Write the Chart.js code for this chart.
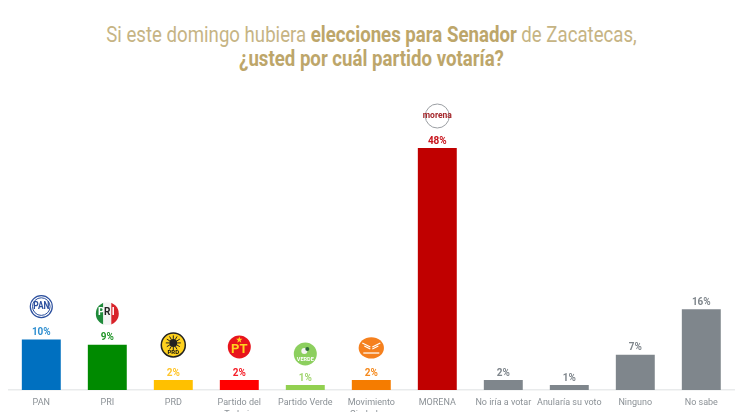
<!DOCTYPE html>
<html lang="es">
<head>
<meta charset="utf-8">
<script src="https://cdn.jsdelivr.net/npm/chart.js@4"></script>
<style>
html,body{margin:0;padding:0;background:#fff;width:748px;height:412px;overflow:hidden}
#wrap{position:relative;width:748px;height:412px}
canvas{position:absolute;left:0;top:0}
#title{position:absolute;left:0;right:0;top:22.5px;text-align:center;font:22px/24px Roboto,sans-serif;color:#c6b484;white-space:nowrap;transform:translateX(-2.5px) scaleX(.847);transform-origin:center;font-weight:400}
#title b{font-weight:700;color:#bda66a}
</style>
</head>
<body>
<div id="wrap">
<div id="title">Si este domingo hubiera <b>elecciones para Senador</b> de Zacatecas,<br><b>¿usted por cuál partido votaría?</b></div>
<canvas id="c" width="748" height="412"></canvas>
</div>
<script>
const categories = ['PAN','PRI','PRD',['Partido del','Trabajo'],'Partido Verde',['Movimiento','Ciudadano'],'MORENA','No iría a votar','Anularía su voto','Ninguno','No sabe'];
const values = [10,9,2,2,1,2,48,2,1,7,16];
const barColors = ['#0070c0','#008a00','#ffc000','#ff0000','#92d050','#f57c00','#c00000','#7f868c','#7f868c','#7f868c','#7f868c'];
const labelColors = ['#2f8fd0','#22962a','#ffc62e','#f5202a','#a2d670','#f58a1e','#c8141c','#7f868c','#7f868c','#7f868c','#7f868c'];
const logos = ['pan','pri','prd','pt','verde','mc','morena',null,null,null,null];
const logoLift = [33,31,35,33,31,32,32];

function circle(ctx,x,y,r,fill,stroke,lw){
  ctx.beginPath();ctx.arc(x,y,r,0,Math.PI*2);
  if(fill){ctx.fillStyle=fill;ctx.fill();}
  if(stroke){ctx.strokeStyle=stroke;ctx.lineWidth=lw||1;ctx.stroke();}
}
function label(ctx,t,x,y,font,color,sx){
  ctx.save();ctx.translate(x,y);ctx.scale(sx||1,1);
  ctx.font=font;ctx.fillStyle=color;ctx.textAlign='center';ctx.textBaseline='middle';
  ctx.fillText(t,0,0);ctx.restore();
}
const drawLogo = {
  pan(ctx,x,y){
    circle(ctx,x,y,11,'#fff','#2b4f9e',1.2);
    circle(ctx,x,y,8.8,null,'#2b4f9e',1);
    label(ctx,'PAN',x,y,'bold 10.5px Roboto','#2b4f9e',.8);
  },
  pri(ctx,x,y){
    ctx.save();ctx.beginPath();ctx.arc(x,y,11.5,0,Math.PI*2);ctx.clip();
    ctx.fillStyle='#1f8a3a';ctx.fillRect(x-12,y-12,8,24);
    ctx.fillStyle='#f4f4f4';ctx.fillRect(x-4,y-12,8,24);
    ctx.fillStyle='#d8232a';ctx.fillRect(x+4,y-12,8,24);
    ctx.restore();
    label(ctx,'P',x-6,y-1,'bold 10px Roboto','#fff',1);
    label(ctx,'R',x,y-1,'bold 10px Roboto','#222',1);
    label(ctx,'I',x+6,y-1,'bold 10px Roboto','#fff',1);
  },
  prd(ctx,x,y){
    circle(ctx,x,y,12,'#ffd21f','#222',1.5);
    circle(ctx,x,y-2,4,'#222');
    for(let i=0;i<12;i++){
      const a=i*Math.PI/6;
      ctx.strokeStyle='#222';ctx.lineWidth=1;ctx.beginPath();
      ctx.moveTo(x+Math.cos(a)*4,y-2+Math.sin(a)*4);
      ctx.lineTo(x+Math.cos(a)*7.5,y-2+Math.sin(a)*7.5);ctx.stroke();
    }
    label(ctx,'PRD',x,y+7.5,'bold 6px Roboto','#111',1);
  },
  pt(ctx,x,y){
    circle(ctx,x,y,11.5,'#e8141c');
    ctx.fillStyle='#ffd21f';ctx.beginPath();
    for(let i=0;i<10;i++){
      const r=i%2?1.4:3.4,a=-Math.PI/2+i*Math.PI/5,px=x+Math.cos(a)*r,py=y-7+Math.sin(a)*r;
      i?ctx.lineTo(px,py):ctx.moveTo(px,py);
    }
    ctx.closePath();ctx.fill();
    label(ctx,'PT',x,y+3,'bold 13px Roboto','#ffd21f',1);
  },
  verde(ctx,x,y){
    circle(ctx,x,y,11.5,'#8ccf5e');
    circle(ctx,x-1,y-3,3,'#f4f4f4');
    circle(ctx,x+2,y-5,2,'#2f6a3a');
    label(ctx,'VERDE',x,y+5.5,'bold 5.5px Roboto','#fff',1);
  },
  mc(ctx,x,y){
    ctx.save();ctx.translate(x,y);ctx.scale(1.1,.93);
    circle(ctx,0,0,11.5,'#f5801e');ctx.restore();
    ctx.strokeStyle='#fff';ctx.lineWidth=1.2;
    [-1,1].forEach(s=>{
      ctx.beginPath();ctx.moveTo(x+s*1,y-1);ctx.lineTo(x+s*9,y-5);ctx.stroke();
      ctx.beginPath();ctx.moveTo(x+s*1,y+1);ctx.lineTo(x+s*7,y-2);ctx.stroke();
    });
    ctx.fillStyle='#fff';ctx.fillRect(x-8,y+4.5,16,1.2);
  },
  morena(ctx,x,y){
    circle(ctx,x,y,12,'#fff','#9a9ea2',1);
    label(ctx,'morena',x,y,'bold 8.5px Roboto','#a5282c',1);
  }
};
const decorations = {
  id:'decorations',
  afterDatasetsDraw(chart){
    const ctx=chart.ctx, bars=chart.getDatasetMeta(0).data;
    bars.forEach((b,i)=>{
      label(ctx,values[i]+'%',b.x,b.y-7,'bold 10.5px Roboto',labelColors[i],.95);
      if(logos[i]) drawLogo[logos[i]](ctx,b.x,b.y-logoLift[i]);
    });
  }
};
new Chart(document.getElementById('c'),{
  type:'bar',
  data:{labels:categories,datasets:[{data:values,backgroundColor:barColors,barPercentage:.59,categoryPercentage:1,borderWidth:0}]},
  plugins:[decorations],
  options:{
    responsive:false,animation:false,
    layout:{padding:{top:148,left:8.3,right:13.7,bottom:0}},
    plugins:{legend:{display:false},tooltip:{enabled:false},title:{display:false}},
    scales:{
      y:{display:false,min:0,max:48},
      x:{
        afterFit(s){s.height=22;},
        grid:{display:false,drawTicks:false},
        border:{color:'#e9ebec',width:1.5},
        ticks:{color:'#8b9196',font:{family:'Roboto',size:9,lineHeight:1.3},padding:7,maxRotation:0,autoSkip:false}
      }
    }
  }
});
</script>
</body>
</html>
